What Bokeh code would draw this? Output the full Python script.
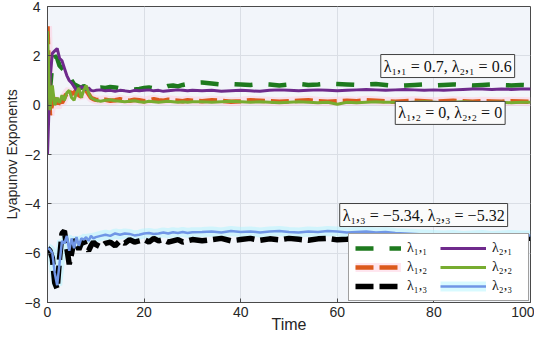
from bokeh.plotting import figure
from bokeh.models import Legend, LegendItem, Label, FixedTicker, Range1d
from bokeh.embed import file_html
from bokeh.resources import INLINE

# ---------------- data ----------------
t = [0, 0.5, 1, 1.5, 2, 2.5, 3, 3.5, 4, 4.5, 5, 5.5, 6, 6.5, 7, 7.5, 8, 8.5, 9, 9.5, 10,
     11, 12, 13, 14, 15, 16, 17, 18, 19, 20, 21, 22, 23, 24, 25, 26, 27, 28, 29, 30,
     32, 34, 36, 38, 40, 42, 44, 46, 48, 50, 52, 54, 56, 58, 60, 62, 64, 66, 68, 70,
     72, 74, 76, 78, 80, 82, 84, 86, 88, 90, 92, 94, 96, 98, 100]

lam11 = [2.0, 0.6, 1.7, 2.0, 1.9, 1.6, 1.5, 1.4, 1.45, 1.2, 1.0, 0.85, 0.8, 0.75, 0.7, 0.78, 0.72, 0.68, 0.7, 0.66, 0.7,
         0.72, 0.7, 0.74, 0.72, 0.68, 0.7, 0.66, 0.64, 0.66, 0.7, 0.72, 0.68, 0.66, 0.7, 0.78, 0.8, 0.76, 0.82, 0.86, 0.9,
         0.92, 0.88, 0.84, 0.86, 0.84, 0.82, 0.86, 0.84, 0.8, 0.84, 0.86, 0.82, 0.84, 0.88, 0.86, 0.84, 0.82, 0.84, 0.86, 0.82,
         0.78, 0.8, 0.82, 0.84, 0.8, 0.82, 0.84, 0.82, 0.8, 0.82, 0.84, 0.82, 0.8, 0.82, 0.8]

lam21 = [-2.0, 1.0, 2.1, 2.2, 2.3, 1.9, 1.8, 1.5, 1.2, 1.0, 0.9, 0.75, 0.6, 0.65, 0.75, 0.7, 0.62, 0.7, 0.6, 0.58, 0.6,
         0.62, 0.58, 0.6, 0.56, 0.6, 0.58, 0.55, 0.6, 0.58, 0.6, 0.62, 0.58, 0.6, 0.56, 0.58, 0.6, 0.62, 0.6, 0.58, 0.6,
         0.58, 0.6, 0.56, 0.58, 0.6, 0.58, 0.56, 0.6, 0.62, 0.6, 0.58, 0.6, 0.62, 0.6, 0.58, 0.6, 0.62, 0.64, 0.62, 0.6,
         0.62, 0.64, 0.62, 0.6, 0.62, 0.6, 0.62, 0.64, 0.66, 0.66, 0.64, 0.66, 0.64, 0.66, 0.66]

lam12 = [3.2, -0.4, 0.1, 0.3, -0.1, 0.2, 0.1, 0.3, 0.5, 0.6, 0.45, 0.5, 0.6, 0.4, 0.35, 0.5, 0.6, 0.45, 0.3, 0.25, 0.22,
         0.2, 0.22, 0.18, 0.2, 0.24, 0.2, 0.18, 0.22, 0.2, 0.16, 0.2, 0.24, 0.2, 0.18, 0.22, 0.2, 0.18, 0.16, 0.2, 0.18,
         0.16, 0.2, 0.18, 0.14, 0.16, 0.2, 0.18, 0.16, 0.14, 0.16, 0.18, 0.2, 0.16, 0.14, 0.16, 0.18, 0.16, 0.2, 0.18, 0.16,
         0.14, 0.16, 0.18, 0.16, 0.14, 0.16, 0.18, 0.16, 0.14, 0.16, 0.15, 0.14, 0.16, 0.15, 0.14]

lam22 = [3.0, -0.2, 0.8, 0.0, 0.3, 0.1, 0.4, 0.2, 0.5, 0.6, 0.3, 0.2, 0.5, 0.7, 0.3, 0.6, 0.8, 0.5, 0.3, 0.25, 0.2,
         0.16, 0.2, 0.22, 0.18, 0.16, 0.14, 0.16, 0.18, 0.14, 0.12, 0.16, 0.14, 0.12, 0.14, 0.16, 0.14, 0.12, 0.14, 0.12, 0.14,
         0.14, 0.12, 0.14, 0.16, 0.14, 0.12, 0.14, 0.12, 0.1, 0.12, 0.14, 0.12, 0.1, 0.12, 0.04, 0.12, 0.1, 0.12, 0.14, 0.12,
         0.12, 0.1, 0.12, 0.14, 0.12, 0.1, 0.12, 0.14, 0.12, 0.1, 0.12, 0.12, 0.1, 0.12, 0.12]

lam13 = [-5.8, -5.9, -6.2, -7.2, -7.45, -6.2, -5.2, -5.1, -5.8, -6.45, -6.0, -5.45, -5.6, -5.85, -5.6, -5.5, -5.75, -5.9, -5.7, -5.55, -5.65,
         -5.75, -5.6, -5.55, -5.7, -5.5, -5.6, -5.45, -5.55, -5.5, -5.45, -5.55, -5.4, -5.5, -5.45, -5.55, -5.5, -5.45, -5.55, -5.5, -5.45,
         -5.5, -5.45, -5.4, -5.5, -5.45, -5.4, -5.48, -5.42, -5.46, -5.4, -5.44, -5.48, -5.42, -5.4, -5.46, -5.44, -5.4, -5.42, -5.46, -5.4,
         -5.42, -5.44, -5.4, -5.42, -5.38, -5.42, -5.4, -5.44, -5.4, -5.42, -5.4, -5.38, -5.42, -5.4, -5.4]

lam23 = [-5.8, -5.85, -6.0, -6.8, -7.3, -6.4, -5.5, -5.6, -5.3, -5.9, -5.4, -5.8, -5.35, -5.7, -5.4, -5.45, -5.35, -5.5, -5.3, -5.4, -5.35,
         -5.3, -5.25, -5.3, -5.2, -5.25, -5.2, -5.22, -5.28, -5.25, -5.2, -5.18, -5.22, -5.2, -5.16, -5.2, -5.15, -5.18, -5.14, -5.18, -5.15,
         -5.14, -5.12, -5.16, -5.1, -5.14, -5.12, -5.16, -5.12, -5.1, -5.14, -5.16, -5.12, -5.14, -5.1, -5.12, -5.16, -5.14, -5.12, -5.16, -5.14,
         -5.18, -5.2, -5.22, -5.24, -5.26, -5.28, -5.26, -5.3, -5.28, -5.26, -5.3, -5.28, -5.26, -5.28, -5.28]

x_ticks = [0, 20, 40, 60, 80, 100]
y_ticks = [-8, -6, -4, -2, 0, 2, 4]

legend_labels = ["λ₁,₁", "λ₁,₂", "λ₁,₃", "λ₂,₁", "λ₂,₂", "λ₂,₃"]
annotations = ["λ₁,₁ = 0.7, λ₂,₁ = 0.6",
               "λ₁,₂ = 0, λ₂,₂ = 0",
               "λ₁,₃ = −5.34, λ₂,₃ = −5.32"]
annotation_pos = [(69.0, 1.12), (72.0, -0.78), (60.5, -4.92)]

# ---------------- figure ----------------
p = figure(width=534, height=335, output_backend="svg", toolbar_location=None,
           x_range=Range1d(0, 100), y_range=Range1d(-8, 4),
           min_border_left=10, min_border_right=4, min_border_top=6, min_border_bottom=0)

p.background_fill_color = "#f2f5fa"
p.border_fill_color = "white"
p.outline_line_color = "#4a4a4a"
p.outline_line_width = 1

for ax in (p.xaxis[0], p.yaxis[0]):
    ax.axis_line_color = "#4a4a4a"
    ax.major_tick_line_color = "#4a4a4a"
    ax.major_tick_in = 4
    ax.major_tick_out = 0
    ax.minor_tick_line_color = None
    ax.major_label_text_font = "Liberation Sans"
    ax.major_label_text_font_size = "14px"
    ax.major_label_text_color = "#262626"
    ax.axis_label_text_font = "Liberation Sans"
    ax.axis_label_text_font_style = "normal"
    ax.axis_label_text_color = "#262626"

p.xaxis.ticker = FixedTicker(ticks=x_ticks)
p.yaxis.ticker = FixedTicker(ticks=y_ticks)
p.xaxis.axis_label = "Time"
p.xaxis.axis_label_text_font_size = "16px"
p.xaxis.major_label_standoff = 4
p.xaxis.axis_label_standoff = -4
p.yaxis.axis_label = "Lyapunov Exponents"
p.yaxis.axis_label_text_font_size = "14px"
p.yaxis.major_label_standoff = 7
p.yaxis.axis_label_standoff = 2

p.xgrid.grid_line_color = "#dadee5"
p.ygrid.grid_line_color = "#dadee5"
p.xgrid.ticker = FixedTicker(ticks=x_ticks)
p.ygrid.ticker = FixedTicker(ticks=y_ticks)

# halos
h12 = p.line(t, lam12, line_color="#ffc8dc", line_width=9, line_alpha=0.45)
h23 = p.line(t, lam23, line_color="#a8f4ff", line_width=10, line_alpha=0.45)

# dashed series (first index 1)
r11 = p.line(t, lam11, line_color="#1e7a1e", line_width=4.5, line_dash="18 16")
r12 = p.line(t, lam12, line_color="#dc5a1c", line_width=4.5, line_dash="18 6")
r13 = p.line(t, lam13, line_color="#000000", line_width=5.5, line_dash="18 6")
# solid series (first index 2)
r21 = p.line(t, lam21, line_color="#6f2a8c", line_width=3)
r22 = p.line(t, lam22, line_color="#77ac30", line_width=3)
r23 = p.line(t, lam23, line_color="#7096e6", line_width=2.5)

items = [LegendItem(label=legend_labels[0], renderers=[r11]),
         LegendItem(label=legend_labels[1], renderers=[h12, r12]),
         LegendItem(label=legend_labels[2], renderers=[r13]),
         LegendItem(label=legend_labels[3], renderers=[r21]),
         LegendItem(label=legend_labels[4], renderers=[r22]),
         LegendItem(label=legend_labels[5], renderers=[h23, r23])]
legend = Legend(items=items, location="bottom_right", nrows=3,
                border_line_color="#404040", border_line_width=1,
                background_fill_color="white", background_fill_alpha=1,
                glyph_width=46, glyph_height=14, label_standoff=6, label_width=30,
                spacing=3, padding=6, margin=1,
                label_text_font="Liberation Serif", label_text_font_size="14px",
                label_text_color="#111111")
p.add_layout(legend)

for txt, (xx, yy) in zip(annotations, annotation_pos):
    p.add_layout(Label(x=xx, y=yy, text=txt, text_align="left", text_baseline="bottom",
                       text_font="Liberation Serif", text_font_size="16px", text_color="#111111",
                       background_fill_color="#fbfbfb", background_fill_alpha=1,
                       border_line_color="#404040", border_line_width=1, padding=3))

open("out.html", "w").write(file_html(p, INLINE))
